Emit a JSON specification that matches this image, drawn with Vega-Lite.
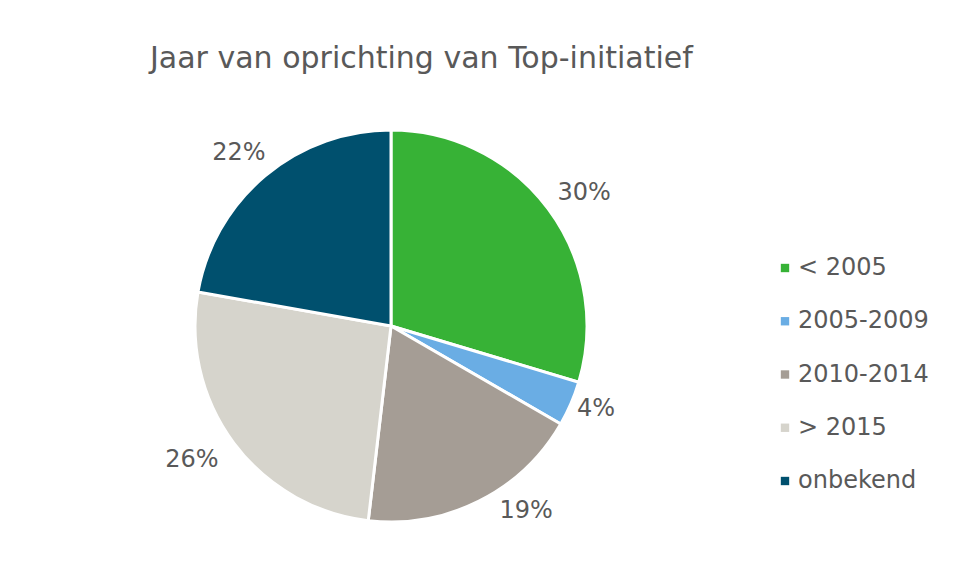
{
  "$schema": "https://vega.github.io/schema/vega-lite/v6.json",
  "width": 400,
  "height": 400,
  "autosize": {"type": "none"},
  "padding": {"left": 191, "top": 126, "right": 363, "bottom": 53},
  "background": "white",
  "config": {"view": {"stroke": null}, "font": "DejaVu Sans"},
  "title": {
    "text": "Jaar van oprichting van Top-initiatief",
    "anchor": "start",
    "frame": "group",
    "dx": -41,
    "offset": 50,
    "fontSize": 30,
    "fontWeight": "normal",
    "color": "#595959",
    "font": "DejaVu Sans"
  },
  "data": {
    "values": [
      {"categorie": "< 2005", "aantal": 8, "label": "30%", "volgorde": 1},
      {"categorie": "2005-2009", "aantal": 1, "label": "4%", "volgorde": 2},
      {"categorie": "2010-2014", "aantal": 5, "label": "19%", "volgorde": 3},
      {"categorie": "> 2015", "aantal": 7, "label": "26%", "volgorde": 4},
      {"categorie": "onbekend", "aantal": 6, "label": "22%", "volgorde": 5}
    ]
  },
  "transform": [
    {"stack": "aantal", "groupby": [], "sort": [{"field": "volgorde", "order": "ascending"}], "as": ["begin", "eind"]}
  ],
  "encoding": {
    "theta": {"field": "begin", "type": "quantitative", "scale": {"domain": [0, 27]}},
    "color": {
      "field": "categorie",
      "type": "nominal",
      "scale": {
        "domain": ["< 2005", "2005-2009", "2010-2014", "> 2015", "onbekend"],
        "range": ["#37b236", "#6aade4", "#a59d95", "#d6d4cc", "#00506e"]
      },
      "legend": {
        "title": null,
        "orient": "none",
        "legendX": 582,
        "legendY": 130,
        "symbolType": "square",
        "symbolSize": 70,
        "symbolStrokeWidth": 0,
        "labelFontSize": 24,
        "labelColor": "#595959",
        "labelFont": "DejaVu Sans",
        "rowPadding": 29.25,
        "labelOffset": 1
      }
    }
  },
  "layer": [
    {
      "mark": {"type": "arc", "outerRadius": 196, "stroke": "white", "strokeWidth": 3},
      "encoding": {"theta2": {"field": "eind"}}
    },
    {
      "transform": [{"filter": "datum.label == '30%'"}],
      "mark": {"type": "text", "radius": 232, "thetaOffset": 0.9308, "dx": 7, "dy": 6, "fontSize": 24, "align": "center", "baseline": "middle", "font": "DejaVu Sans"},
      "encoding": {"text": {"field": "label", "type": "nominal"}, "color": {"value": "#595959"}}
    },
    {
      "transform": [{"filter": "datum.label == '4%'"}],
      "mark": {"type": "text", "radius": 232, "thetaOffset": 0.1164, "dx": -8, "dy": -9, "fontSize": 24, "align": "center", "baseline": "middle", "font": "DejaVu Sans"},
      "encoding": {"text": {"field": "label", "type": "nominal"}, "color": {"value": "#595959"}}
    },
    {
      "transform": [{"filter": "datum.label == '19%'"}],
      "mark": {"type": "text", "radius": 232, "thetaOffset": 0.5818, "dx": 31, "dy": -22, "fontSize": 24, "align": "center", "baseline": "middle", "font": "DejaVu Sans"},
      "encoding": {"text": {"field": "label", "type": "nominal"}, "color": {"value": "#595959"}}
    },
    {
      "transform": [{"filter": "datum.label == '26%'"}],
      "mark": {"type": "text", "radius": 232, "thetaOffset": 0.8145, "dx": -13, "dy": -5, "fontSize": 24, "align": "center", "baseline": "middle", "font": "DejaVu Sans"},
      "encoding": {"text": {"field": "label", "type": "nominal"}, "color": {"value": "#595959"}}
    },
    {
      "transform": [{"filter": "datum.label == '22%'"}],
      "mark": {"type": "text", "radius": 232, "thetaOffset": 0.6981, "dx": -3, "dy": 5, "fontSize": 24, "align": "center", "baseline": "middle", "font": "DejaVu Sans"},
      "encoding": {"text": {"field": "label", "type": "nominal"}, "color": {"value": "#595959"}}
    }
  ]
}
